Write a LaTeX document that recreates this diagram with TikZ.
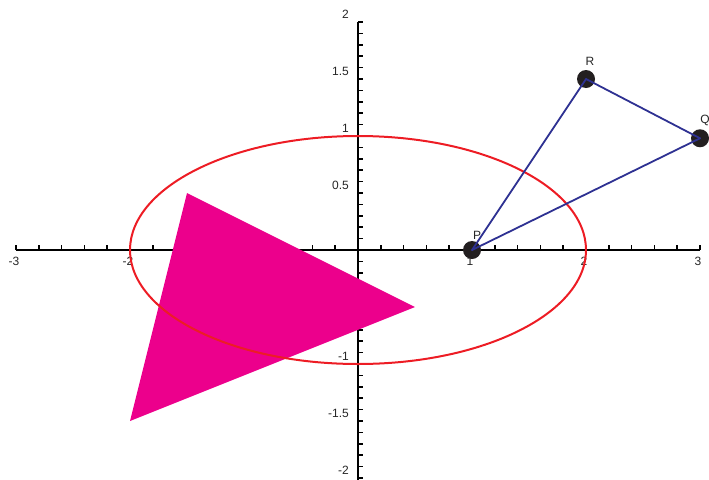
\documentclass[tikz,border=0pt]{standalone}
\usepackage{fontspec}
\setmainfont{Liberation Sans}
\definecolor{navy}{HTML}{2E3192}
\definecolor{magentafill}{HTML}{EC008C}
\definecolor{ellred}{HTML}{ED1C24}
\definecolor{dotblack}{HTML}{231F20}
\begin{document}
\begin{tikzpicture}[x=114pt,y=114pt,
  axisline/.style={line width=2.2pt,black},
  tickmark/.style={line width=1.6pt,black},
  lbl/.style={font=\fontsize{12}{14}\selectfont,inner sep=0pt,text=black!85},
  ptdot/.style={circle,fill=dotblack,minimum size=18pt,inner sep=0pt},
  seg/.style={line width=1.8pt,navy,line cap=round},
  curve/.style={line width=2pt,ellred}]
\useasboundingbox (-3.1404,-2.0088) rectangle (3.0789,2.1930);
% axes
\coordinate (xl) at (-3,0);
\coordinate (xr) at (3,0);
\coordinate (yt) at (0,2);
\coordinate (yb) at (0,-2.02);
\draw[axisline] (xl) -- (xr);
\draw[axisline] (yt) -- (yb);
\foreach \i in {-15,...,15}{
  \draw[tickmark] (\i*0.2,0) -- ++(0,5pt);
}
\foreach \j in {-20,...,20}{
  \draw[tickmark] (0,\j*0.1) -- ++(5pt,0);
}
% x labels
\foreach \v/\t in {-3/-3,-2/-2,1/1,2/2,3/3}{
  \node[lbl,anchor=north] (xlab\t) at ([xshift=-2pt,yshift=-7pt]\v,0) {\t};
}
% y labels
\foreach \v/\t/\n in {2/2/a,1.5/1.5/b,1/1/c,0.5/0.5/d,-1/-1/e,-1.5/-1.5/f,-2/-2/g}{
  \node[lbl,anchor=east] (ylab\n) at ([xshift=-9pt,yshift=8pt]0,\v) {\t};
}
% triangle
\fill[magentafill] (-1.5,0.5) -- (0.5,-0.5) -- (-2,-1.5) -- cycle;
% ellipse
\draw[curve] (0,0) ellipse [x radius=228pt, y radius=114pt];
% points
\node[ptdot] (P) at (1,0) {};
\node[ptdot] (R) at (2,1.5) {};
\node[ptdot] (Q) at (3,0.98) {};
\draw[seg] (P.center) -- (R.center);
\draw[seg] (P.center) -- (Q.center);
\draw[seg] (R.center) -- (Q.center);
\node[lbl] (Plbl) at ([xshift=5pt,yshift=15pt]P.center) {P};
\node[lbl] (Rlbl) at ([xshift=4pt,yshift=18pt]R.center) {R};
\node[lbl] (Qlbl) at ([xshift=5pt,yshift=18pt]Q.center) {Q};
\end{tikzpicture}
\end{document}
